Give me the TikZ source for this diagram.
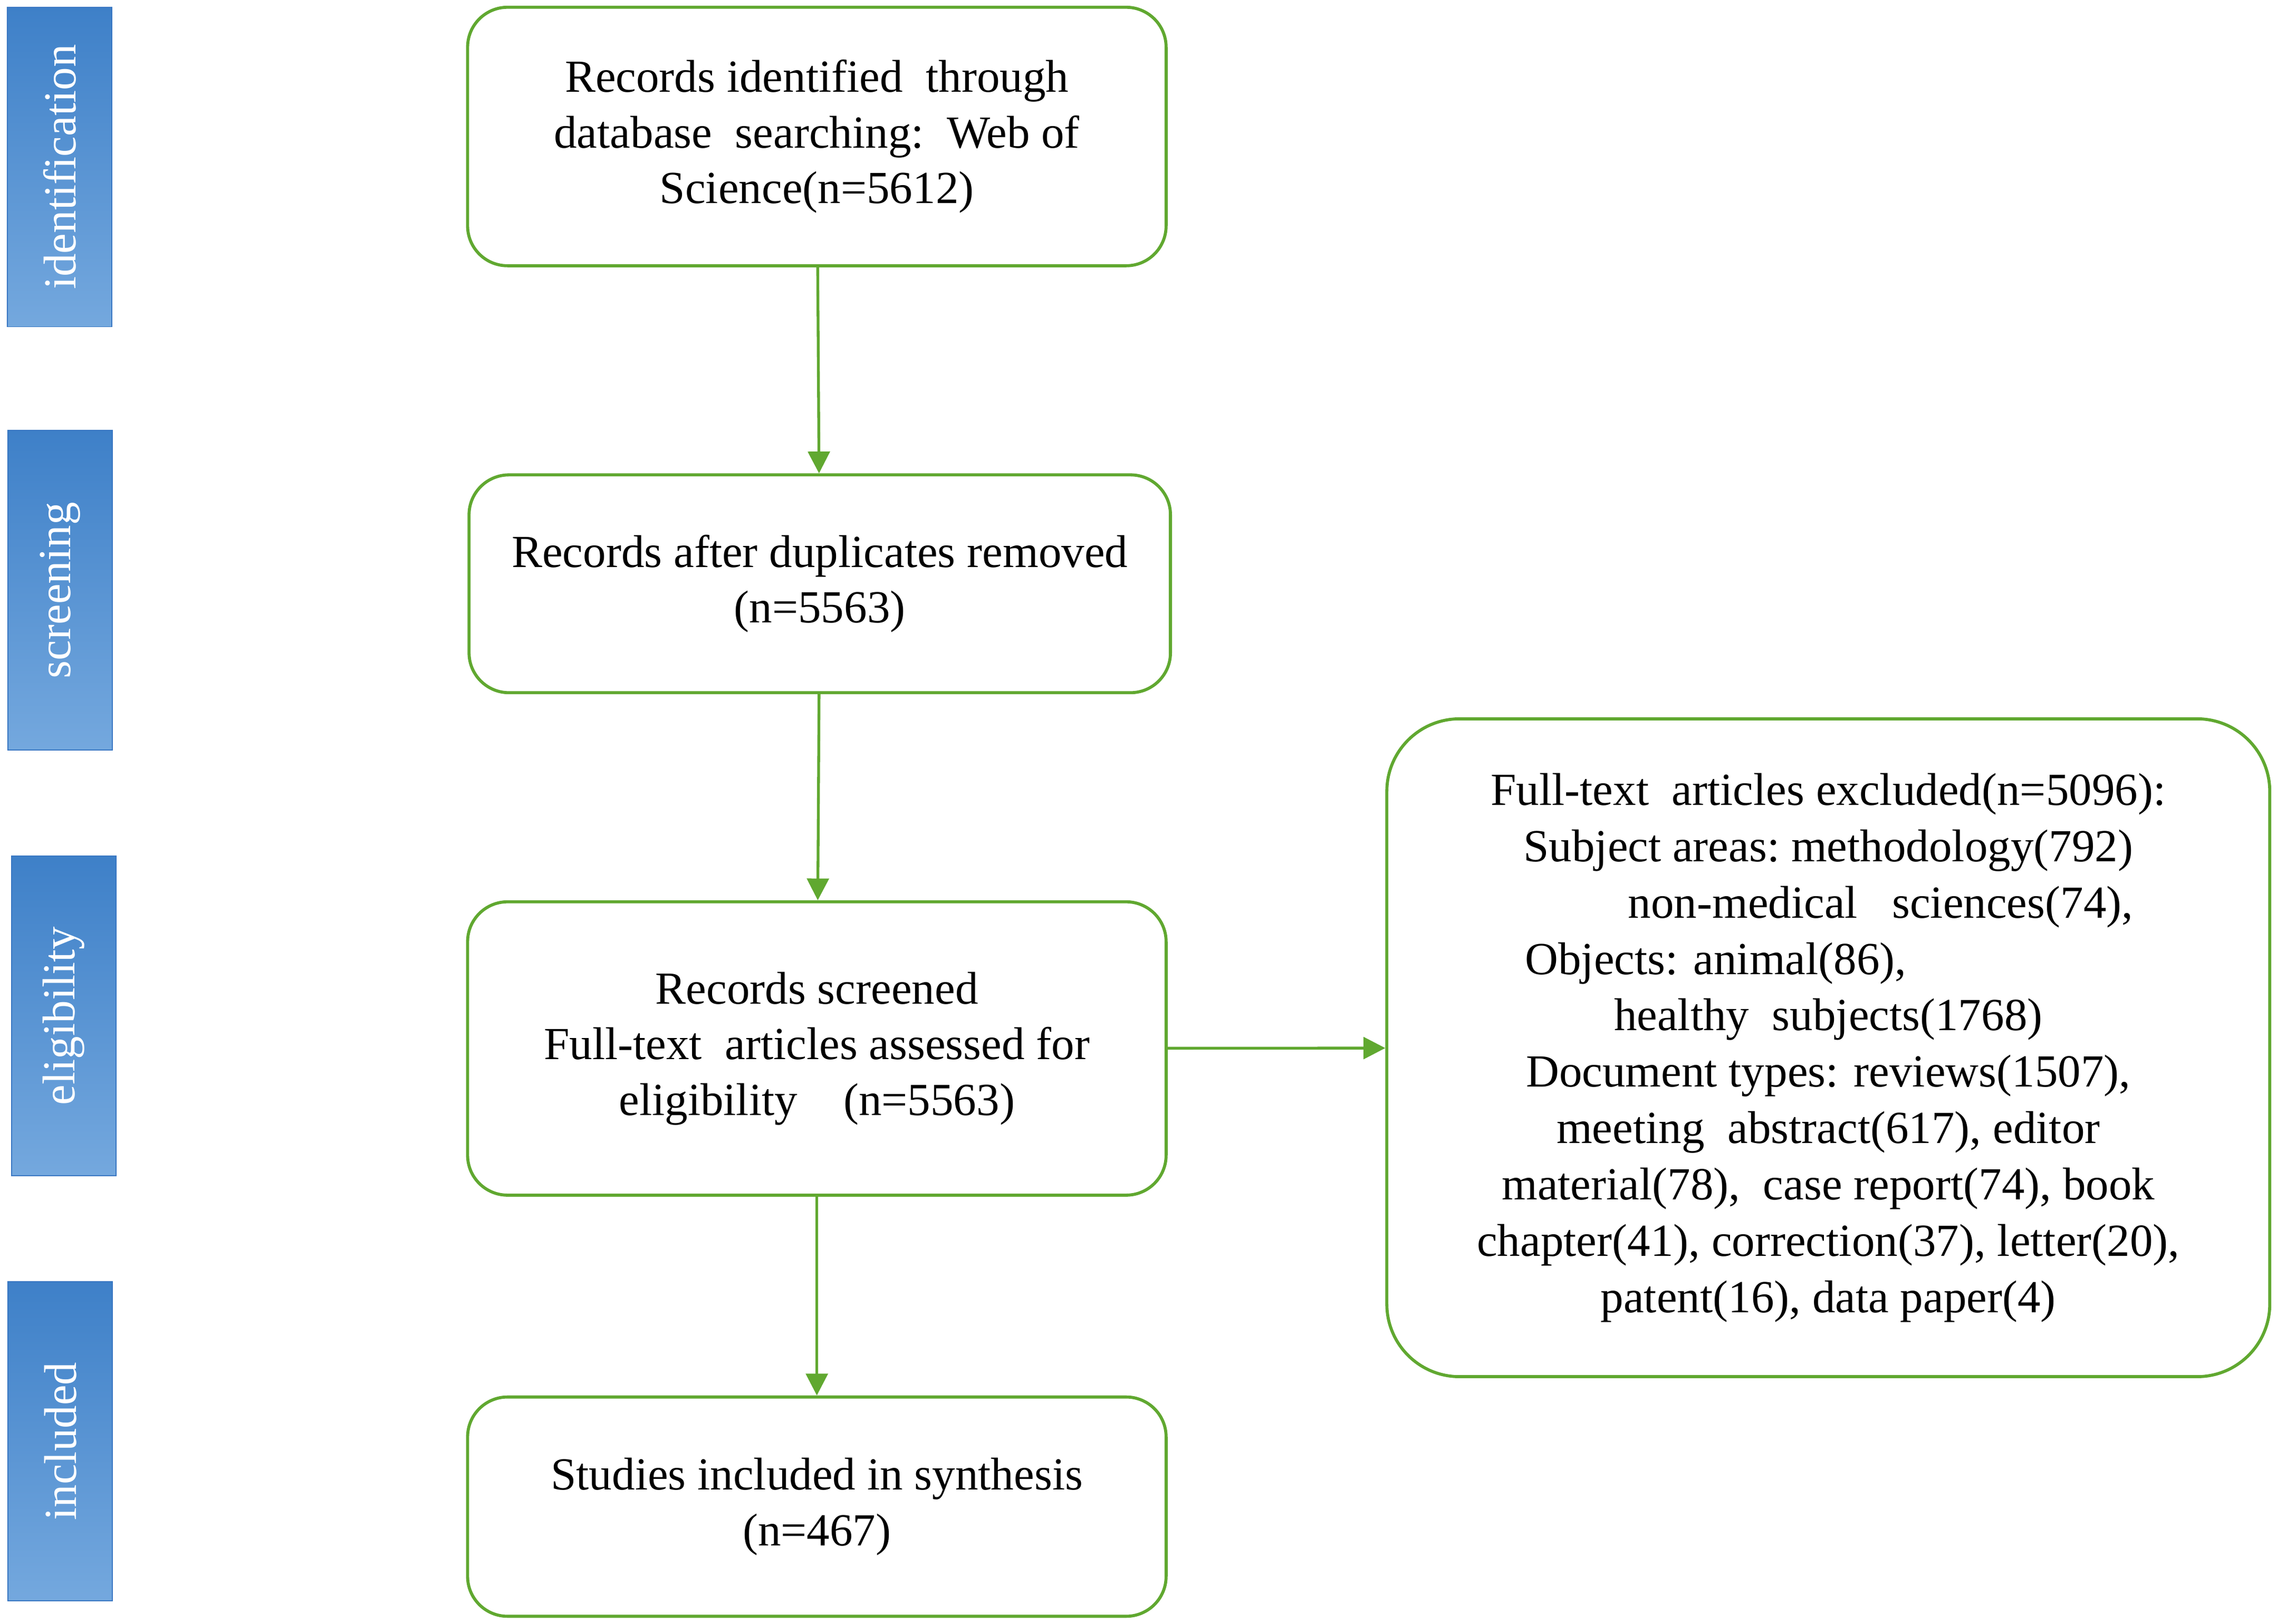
\documentclass[tikz,border=0pt]{standalone}
\usepackage{fontspec}
\setmainfont{Liberation Serif}
\usetikzlibrary{arrows.meta}
\definecolor{boxgreen}{RGB}{96,168,48}
\definecolor{bartop}{RGB}{62,128,200}
\definecolor{barbottom}{RGB}{116,168,222}
\definecolor{barline}{RGB}{56,118,194}

\begin{document}
\begin{tikzpicture}[
  box/.style={draw=boxgreen, line width=1.2pt, rounded corners=0.55cm, align=center, inner sep=0pt, font=\fontsize{18}{21.8}\selectfont},
  stage/.style={draw=barline, top color=bartop, bottom color=barbottom, minimum width=1.44cm, minimum height=4.4cm, inner sep=0pt, text=white, font=\fontsize{18}{21.8}\selectfont},
  flow/.style={draw=boxgreen, line width=1.1pt, -{Triangle[length=3mm,width=3mm]}}
]
\useasboundingbox (0,0) rectangle (31.36,-22.36);

\path (0.82,-2.3) node (ident) [stage] {\rotatebox{90}{identification}};
\path (0.83,-8.13) node (screen) [stage] {\rotatebox{90}{screening}};
\path (0.88,-13.99) node (elig) [stage] {\rotatebox{90}{eligibility}};
\path (0.83,-19.85) node (incl) [stage] {\rotatebox{90}{included}};

\path (11.25,-1.88) node (found) [box, minimum width=9.62cm, minimum height=3.56cm] {Records identified\ \ through\\ database\ \ searching:\ \ Web of\\ Science(n=5612)};
\path (11.29,-8.04) node (dedup) [box, minimum width=9.66cm, minimum height=3cm] {Records after duplicates removed\\ (n=5563)};
\path (11.25,-14.44) node (screened) [box, minimum width=9.62cm, minimum height=4.04cm] {Records screened\\ Full-text\ \ articles assessed for\\ eligibility\quad (n=5563)};
\path (11.25,-20.75) node (studies) [box, minimum width=9.62cm, minimum height=3.02cm] {Studies included in synthesis\\ (n=467)};
\path (25.18,-14.43) node (excluded) [box, rounded corners=1cm, minimum width=12.16cm, minimum height=9.06cm, font=\fontsize{18}{22.1}\selectfont] {Full-text\ \ articles excluded(n=5096):\\ Subject areas:\ methodology(792)\\ \hspace*{1.44cm}non-medical\ \ \ sciences(74),\\ Objects: animal(86),\hspace*{3.1cm}\mbox{}\\ healthy\ \ subjects(1768)\\ Document types: reviews(1507),\\ meeting\ \ abstract(617), editor\\ material(78),\ \ case report(74), book\\ chapter(41), correction(37), letter(20),\\ patent(16),\ data paper(4)};

\draw[flow] (found) -- (dedup);
\draw[flow] (dedup) -- (screened);
\draw[flow] (screened) -- (studies);
\draw[flow] (screened) -- (excluded);
\end{tikzpicture}
\end{document}
